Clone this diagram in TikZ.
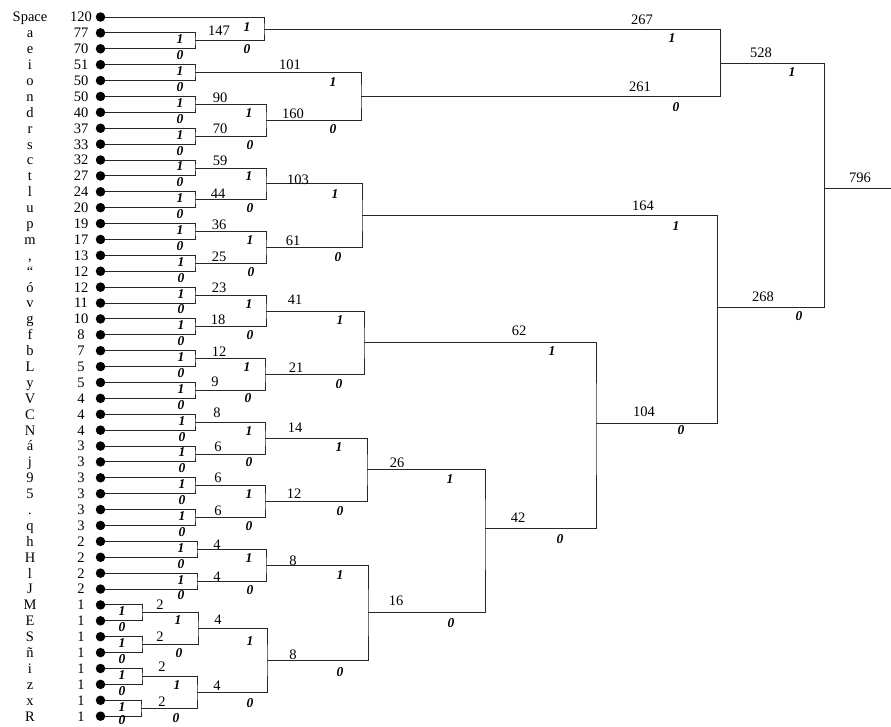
\documentclass[tikz,border=0pt]{standalone}
\usepackage{fontspec}
\setmainfont{Liberation Serif}
\newcommand\leafrow[3]{%
  \node[dot] (L#1) at (100.5,{17+15.89*#1}) {};
  \node[lname] (N#1) at (30,{17+15.89*#1+4.9}) {#2};
  \node[lcount] (C#1) at (81,{17+15.89*#1+4.9}) {#3};}
\newcommand\bitsleaf[3]{%
  \node[bit] (#1one) at (#2,{17+15.89*#3+6.5}) {1};
  \node[bit] (#1zero) at (#2,{17+15.89*(#3+1)+6.5}) {0};}
\newcommand\bitpair[5]{%
  \node[bit] (#1one) at (#2,#3) {1};
  \node[bit] (#1zero) at (#4,#5) {0};}
\begin{document}
\begin{tikzpicture}[x=1pt,y=-1pt,
  dot/.style={circle,fill=black,inner sep=0pt,minimum size=9.5pt},
  lname/.style={anchor=base,inner sep=0pt,font=\fontsize{14.5}{15}\selectfont},
  lcount/.style={anchor=base,inner sep=0pt,font=\fontsize{14.5}{15}\selectfont},
  sumlbl/.style={inner sep=0pt,font=\fontsize{14.5}{15}\selectfont},
  bit/.style={inner sep=0pt,font=\fontsize{13.5}{14}\selectfont\bfseries\itshape},
  edge/.style={draw=black!85,line width=0.9pt}]
\useasboundingbox (0,0) rectangle (891,726);

% leaves
\leafrow{0}{Space}{120}
\leafrow{1}{a}{77}
\leafrow{2}{e}{70}
\leafrow{3}{i}{51}
\leafrow{4}{o}{50}
\leafrow{5}{n}{50}
\leafrow{6}{d}{40}
\leafrow{7}{r}{37}
\leafrow{8}{s}{33}
\leafrow{9}{c}{32}
\leafrow{10}{t}{27}
\leafrow{11}{l}{24}
\leafrow{12}{u}{20}
\leafrow{13}{p}{19}
\leafrow{14}{m}{17}
\leafrow{15}{,}{13}
\leafrow{16}{“}{12}
\leafrow{17}{ó}{12}
\leafrow{18}{v}{11}
\leafrow{19}{g}{10}
\leafrow{20}{f}{8}
\leafrow{21}{b}{7}
\leafrow{22}{L}{5}
\leafrow{23}{y}{5}
\leafrow{24}{V}{4}
\leafrow{25}{C}{4}
\leafrow{26}{N}{4}
\leafrow{27}{á}{3}
\leafrow{28}{j}{3}
\leafrow{29}{9}{3}
\leafrow{30}{5}{3}
\leafrow{31}{.}{3}
\leafrow{32}{q}{3}
\leafrow{33}{h}{2}
\leafrow{34}{H}{2}
\leafrow{35}{l}{2}
\leafrow{36}{J}{2}
\leafrow{37}{M}{1}
\leafrow{38}{E}{1}
\leafrow{39}{S}{1}
\leafrow{40}{ñ}{1}
\leafrow{41}{i}{1}
\leafrow{42}{z}{1}
\leafrow{43}{x}{1}
\leafrow{44}{R}{1}

% junctions level 1
\coordinate (P147) at (195,40.9);
\coordinate (P101) at (195,72.7);
\coordinate (P90) at (195,104.4);
\coordinate (P70) at (195,136.2);
\coordinate (P59) at (195,168.0);
\coordinate (P44) at (195,199.8);
\coordinate (P36) at (195,231.6);
\coordinate (P25) at (195,263.3);
\coordinate (P23) at (195,295.1);
\coordinate (P18) at (195,326.9);
\coordinate (P12) at (195,358.7);
\coordinate (P9) at (195,390.5);
\coordinate (P8) at (195,422.2);
\coordinate (P6a) at (195,454.0);
\coordinate (P6b) at (195,485.8);
\coordinate (P6c) at (195,517.6);
\coordinate (P4a) at (197,549.3);
\coordinate (P4b) at (197,581.1);
\coordinate (P2a) at (142,612.9);
\coordinate (P2b) at (142,644.7);
\coordinate (P2c) at (142,676.5);
\coordinate (P2d) at (141,708.3);
% level 2
\coordinate (Q267) at (264,29.0);
\coordinate (Q160) at (266,120.3);
\coordinate (Q103) at (266,183.9);
\coordinate (Q61) at (266,247.5);
\coordinate (Q41) at (266,311.0);
\coordinate (Q21) at (265,374.6);
\coordinate (Q14) at (265,438.1);
\coordinate (Q12) at (265,501.7);
\coordinate (Q8a) at (266,565.2);
\coordinate (Q4a) at (198,628.8);
\coordinate (Q4b) at (197,692.4);
% level 3
\coordinate (R261) at (361,96.5);
\coordinate (R164) at (362,215.7);
\coordinate (R62) at (364,342.8);
\coordinate (R26) at (367,469.9);
\coordinate (R8b) at (267,660.6);
\coordinate (R16) at (368,612.9);
% level 4
\coordinate (S42) at (485,528);
\coordinate (S104) at (596,423);
\coordinate (S268) at (717,307);
\coordinate (S528) at (720,63);
\coordinate (Root) at (824,188);
\coordinate (out) at (891,188);

% connectors level 1
\draw[edge] (L1) -| (P147) |- (L2);
\draw[edge] (L3) -| (P101) |- (L4);
\draw[edge] (L5) -| (P90) |- (L6);
\draw[edge] (L7) -| (P70) |- (L8);
\draw[edge] (L9) -| (P59) |- (L10);
\draw[edge] (L11) -| (P44) |- (L12);
\draw[edge] (L13) -| (P36) |- (L14);
\draw[edge] (L15) -| (P25) |- (L16);
\draw[edge] (L17) -| (P23) |- (L18);
\draw[edge] (L19) -| (P18) |- (L20);
\draw[edge] (L21) -| (P12) |- (L22);
\draw[edge] (L23) -| (P9) |- (L24);
\draw[edge] (L25) -| (P8) |- (L26);
\draw[edge] (L27) -| (P6a) |- (L28);
\draw[edge] (L29) -| (P6b) |- (L30);
\draw[edge] (L31) -| (P6c) |- (L32);
\draw[edge] (L33) -| (P4a) |- (L34);
\draw[edge] (L35) -| (P4b) |- (L36);
\draw[edge] (L37) -| (P2a) |- (L38);
\draw[edge] (L39) -| (P2b) |- (L40);
\draw[edge] (L41) -| (P2c) |- (L42);
\draw[edge] (L43) -| (P2d) |- (L44);
% level 2
\draw[edge] (L0) -| (Q267) |- (P147);
\draw[edge] (P90) -| (Q160) |- (P70);
\draw[edge] (P59) -| (Q103) |- (P44);
\draw[edge] (P36) -| (Q61) |- (P25);
\draw[edge] (P23) -| (Q41) |- (P18);
\draw[edge] (P12) -| (Q21) |- (P9);
\draw[edge] (P8) -| (Q14) |- (P6a);
\draw[edge] (P6b) -| (Q12) |- (P6c);
\draw[edge] (P4a) -| (Q8a) |- (P4b);
\draw[edge] (P2a) -| (Q4a) |- (P2b);
\draw[edge] (P2c) -| (Q4b) |- (P2d);
% level 3
\draw[edge] (P101) -| (R261) |- (Q160);
\draw[edge] (Q103) -| (R164) |- (Q61);
\draw[edge] (Q41) -| (R62) |- (Q21);
\draw[edge] (Q14) -| (R26) |- (Q12);
\draw[edge] (Q4a) -| (R8b) |- (Q4b);
\draw[edge] (Q8a) -| (R16) |- (R8b);
% level 4
\draw[edge] (R26) -| (S42) |- (R16);
\draw[edge] (R62) -| (S104) |- (S42);
\draw[edge] (R164) -| (S268) |- (S104);
\draw[edge] (Q267) -| (S528) |- (R261);
\draw[edge] (S528) -| (Root) |- (S268);
\draw[edge] (Root) -- (out);

% bit labels, level 1
\bitsleaf{bP147}{180}{1}
\bitsleaf{bP101}{180}{3}
\bitsleaf{bP90}{180}{5}
\bitsleaf{bP70}{180}{7}
\bitsleaf{bP59}{180}{9}
\bitsleaf{bP44}{180}{11}
\bitsleaf{bP36}{180}{13}
\bitsleaf{bP25}{181}{15}
\bitsleaf{bP23}{181}{17}
\bitsleaf{bP18}{181}{19}
\bitsleaf{bP12}{181}{21}
\bitsleaf{bP9}{181}{23}
\bitsleaf{bP8}{182}{25}
\bitsleaf{bP6a}{182}{27}
\bitsleaf{bP6b}{182}{29}
\bitsleaf{bP6c}{182}{31}
\bitsleaf{bP4a}{181}{33}
\bitsleaf{bP4b}{181}{35}
\bitsleaf{bP2a}{122}{37}
\bitsleaf{bP2b}{122}{39}
\bitsleaf{bP2c}{122}{41}
\node[bit] (bP2done) at (122,{17+15.89*43+6.5}) {1};
\node[bit] (bP2dzero) at (122,720) {0};
% level 2
\bitpair{bQ267}{247}{27}{247}{49.4}
\bitpair{bQ160}{249}{113}{250}{145}
\bitpair{bQ103}{249}{176.5}{250}{208.5}
\bitpair{bQ61}{250}{240}{251}{272}
\bitpair{bQ41}{249}{303.6}{250}{335.4}
\bitpair{bQ21}{247}{367}{248}{398}
\bitpair{bQ14}{249}{430.7}{249}{462.5}
\bitpair{bQ12}{249}{494.3}{249}{526.1}
\bitpair{bQ8a}{249}{558}{250}{590}
\bitpair{bQ4a}{178}{620}{179}{653}
\bitpair{bQ4b}{177}{685}{176}{718}
% level 3
\bitpair{bR261}{333}{82}{333}{129}
\bitpair{bR164}{335}{194}{338}{257}
\bitpair{bR62}{340}{320}{339}{384}
\bitpair{bR26}{339}{447}{340}{511}
\bitpair{bR8b}{250}{641}{250}{703}
\bitpair{bR16}{340}{575}{340}{672}
% level 4
\bitpair{bS42}{450}{479}{451}{623}
\bitpair{bS104}{552}{351}{560}{539}
\bitpair{bS268}{676}{226}{681}{430}
\bitpair{bS528}{672}{38}{676}{107}
\bitpair{bRoot}{792}{72}{799}{316}

% sum labels
\node[sumlbl] (s147) at (219,31) {147};
\node[sumlbl] (s101) at (290,65) {101};
\node[sumlbl] (s90) at (220,98) {90};
\node[sumlbl] (s70) at (220,129) {70};
\node[sumlbl] (s59) at (220,161) {59};
\node[sumlbl] (s44) at (218,194) {44};
\node[sumlbl] (s36) at (219,225) {36};
\node[sumlbl] (s25) at (219,257) {25};
\node[sumlbl] (s23) at (219,288) {23};
\node[sumlbl] (s18) at (218,320) {18};
\node[sumlbl] (s12a) at (219,352) {12};
\node[sumlbl] (s9) at (215,382) {9};
\node[sumlbl] (s8a) at (217,413) {8};
\node[sumlbl] (s6a) at (218,447) {6};
\node[sumlbl] (s6b) at (218,478) {6};
\node[sumlbl] (s6c) at (218,511) {6};
\node[sumlbl] (s4a) at (217,545) {4};
\node[sumlbl] (s4b) at (217,577) {4};
\node[sumlbl] (s2a) at (160,605) {2};
\node[sumlbl] (s2b) at (160,637) {2};
\node[sumlbl] (s2c) at (162,667) {2};
\node[sumlbl] (s2d) at (162,702) {2};
\node[sumlbl] (s267) at (642,20) {267};
\node[sumlbl] (s160) at (293,114) {160};
\node[sumlbl] (s103) at (298,180) {103};
\node[sumlbl] (s61) at (293,241) {61};
\node[sumlbl] (s41) at (295,300) {41};
\node[sumlbl] (s21) at (296,368) {21};
\node[sumlbl] (s14) at (295,428) {14};
\node[sumlbl] (s12b) at (294,494) {12};
\node[sumlbl] (s8b) at (293,561) {8};
\node[sumlbl] (s4c) at (218,620) {4};
\node[sumlbl] (s4d) at (217,686) {4};
\node[sumlbl] (s261) at (640,87) {261};
\node[sumlbl] (s164) at (643,206) {164};
\node[sumlbl] (s62) at (519,331) {62};
\node[sumlbl] (s26) at (397,463) {26};
\node[sumlbl] (s8c) at (293,655) {8};
\node[sumlbl] (s16) at (396,601) {16};
\node[sumlbl] (s42) at (518,518) {42};
\node[sumlbl] (s104) at (644,412) {104};
\node[sumlbl] (s268) at (763,297) {268};
\node[sumlbl] (s528) at (761,53) {528};
\node[sumlbl] (s796) at (860,178) {796};
\end{tikzpicture}
\end{document}
